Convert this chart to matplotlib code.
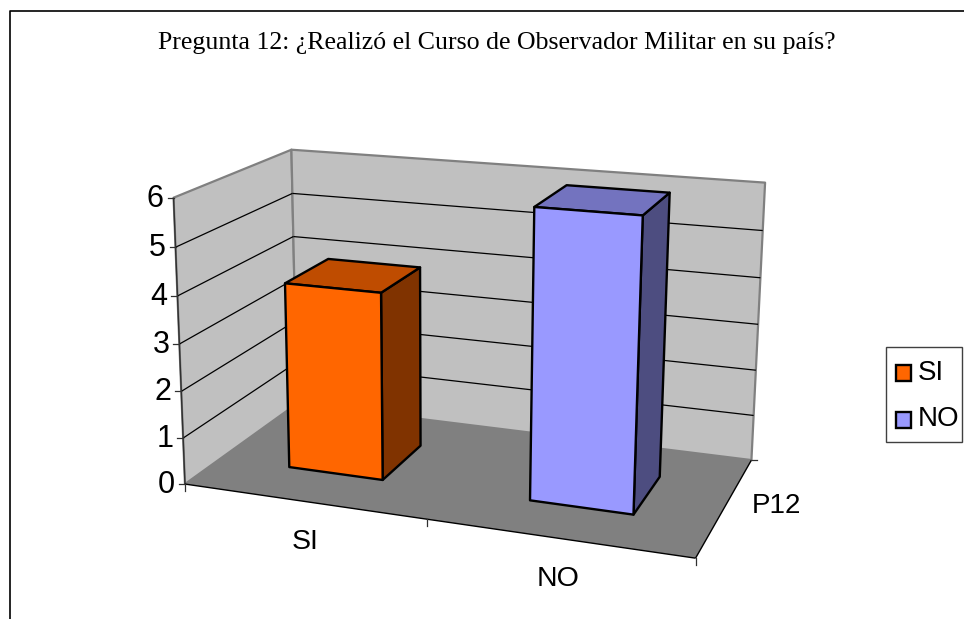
import matplotlib
matplotlib.use("Agg")
import matplotlib.pyplot as plt
from matplotlib.patches import Polygon, Rectangle
import numpy as np

categories = ["SI", "NO"]
values = [4, 6]
y_ticks = [0, 1, 2, 3, 4, 5, 6]
series_name = "P12"
title = "Pregunta 12: ¿Realizó el Curso de Observador Militar en su país?"

FRONT = ["#FF6600", "#9999FF"]
TOP = ["#BF4C00", "#7373BF"]
SIDE = ["#803300", "#4D4D80"]
WALL = "#C0C0C0"
FLOOR = "#808080"
EDGE = "#808080"
WIDTH, HEIGHT = 964, 619

# calibration of the 3d box: (x, depth, value) -> pixel
anchors = [
    ((0, 0, 0), (186, 484)),
    ((2, 0, 0), (695, 559)),
    ((2, 1, 0), (752, 459)),
    ((0, 1, 0), (296, 404)),
    ((0, 0, 6), (173, 197)),
    ((0, 1, 6), (292, 150)),
    ((2, 1, 6), (765, 183)),
]

rows = []
rhs = []
for (x, d, v), (px, py) in anchors:
    rows.append([x, d, v, 1, 0, 0, 0, 0, -px * x, -px * d, -px * v])
    rows.append([0, 0, 0, 0, x, d, v, 1, -py * x, -py * d, -py * v])
    rhs += [px, py]
coef = np.linalg.lstsq(np.array(rows, float), np.array(rhs, float), rcond=None)[0]
P = np.append(coef, 1).reshape(3, 4)


def proj(x, d, v):
    p = P @ np.array([x, d, v, 1.0])
    return p[0] / p[2], p[1] / p[2]


def face(ax, pts, fc, ec="none", lw=0, z=1):
    ax.add_patch(Polygon([proj(*p) for p in pts], closed=True, facecolor=fc,
                         edgecolor=ec, linewidth=lw, zorder=z, joinstyle="round"))


def seg(ax, a, b, color="black", lw=1.0, z=2):
    pa, pb = proj(*a), proj(*b)
    ax.plot([pa[0], pb[0]], [pa[1], pb[1]], color=color, lw=lw, zorder=z,
            solid_capstyle="butt")


fig = plt.figure(figsize=(WIDTH / 100, HEIGHT / 100), dpi=100)
ax = fig.add_axes([0, 0, 1, 1])
ax.set_xlim(0, WIDTH)
ax.set_ylim(HEIGHT, 0)
ax.axis("off")

# chart frame
ax.plot([9.5, 9.5, WIDTH], [HEIGHT, 11, 11], color="black", lw=1.2, zorder=1)

ax.text(496.5, 49, title, family="Liberation Serif", fontsize=18.6, ha="center", va="baseline")

top = y_ticks[-1]
# walls and floor
face(ax, [(0, 0, 0), (0, 1, 0), (0, 1, top), (0, 0, top)], WALL, EDGE, 1.6)
face(ax, [(0, 1, 0), (2, 1, 0), (2, 1, top), (0, 1, top)], WALL, EDGE, 1.6)
face(ax, [(0, 0, 0), (2, 0, 0), (2, 1, 0), (0, 1, 0)], FLOOR)

# gridlines
for t in y_ticks[1:-1]:
    seg(ax, (0, 0, t), (0, 1, t), lw=0.9)
    seg(ax, (0, 1, t), (2, 1, t), lw=0.9)

# axes and ticks
seg(ax, (0, 0, 0), (0, 0, top), color="#303030", lw=1.0, z=3)
seg(ax, (0, 0, 0), (2, 0, 0), lw=1.0, z=3)
seg(ax, (2, 0, 0), (2, 1, 0), lw=1.0, z=3)
for t in y_ticks:
    px, py = proj(0, 0, t)
    ax.plot([px - 6, px], [py, py], color="#303030", lw=0.9, zorder=3)
    ax.text(px - 10, py + 1, str(t), family="Liberation Sans", fontsize=22,
            ha="right", va="center")
for c in range(len(categories) + 1):
    px, py = proj(c, 0, 0)
    ax.plot([px, px], [py, py + 7], color="#303030", lw=0.9, zorder=3)
px, py = proj(2, 1, 0)
ax.plot([px, px + 6], [py, py], color="#303030", lw=0.9, zorder=3)

# bars
bar_w = 0.4
d0, d1 = 0.3, 0.7
for i, (name, val) in enumerate(zip(categories, values)):
    x0 = i + 0.5 - bar_w / 2
    x1 = i + 0.5 + bar_w / 2
    face(ax, [(x1, d0, 0), (x1, d1, 0), (x1, d1, val), (x1, d0, val)], SIDE[i], "black", 1.7, 5)
    face(ax, [(x0, d0, val), (x1, d0, val), (x1, d1, val), (x0, d1, val)], TOP[i], "black", 1.7, 5)
    face(ax, [(x0, d0, 0), (x1, d0, 0), (x1, d0, val), (x0, d0, val)], FRONT[i], "black", 1.7, 6)
    px, py = proj(i + 0.5, 0, 0)
    ax.text(px + 2 - i, py + 41, name, family="Liberation Sans", fontsize=20.5,
            ha="center", va="center")

ax.text(776.5, 506, series_name, family="Liberation Sans", fontsize=20, ha="center", va="center")

# legend
ax.add_patch(Rectangle((885.5, 347), 76, 94.5, facecolor="white", edgecolor="#404040", lw=1.0, zorder=4))
for i, name in enumerate(categories):
    ly = 373 + i * 46.5
    ax.add_patch(Rectangle((896, ly - 8), 14.5, 16, facecolor=FRONT[i], edgecolor="black", lw=1.7, zorder=5))
    ax.text(918, ly, name, family="Liberation Sans", fontsize=20, ha="left", va="center", zorder=5)

fig.savefig("out.png", dpi=100)
